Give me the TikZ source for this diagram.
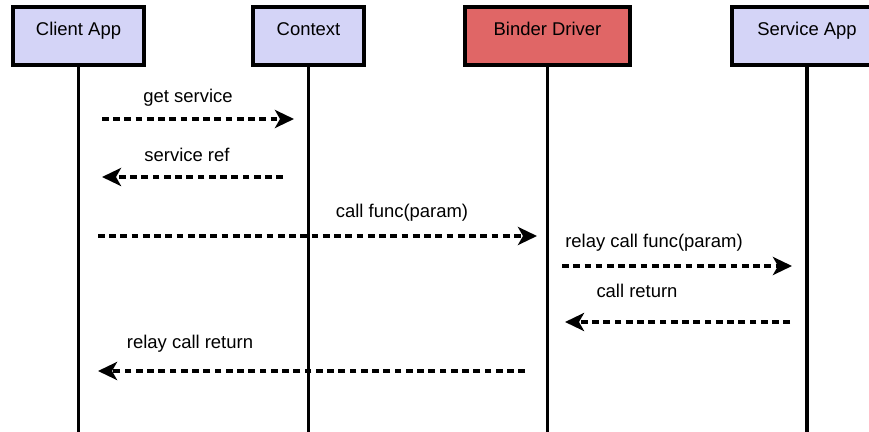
\documentclass[tikz,border=0pt]{standalone}
\usepackage{fontspec}
\setmainfont{Liberation Sans}
\usetikzlibrary{arrows.meta}
\definecolor{actorfill}{RGB}{212,212,247}
\definecolor{driverfill}{RGB}{224,102,102}

\begin{document}
\begin{tikzpicture}[
    font=\fontsize{10.5}{12}\selectfont,
    actor/.style={draw, line width=2pt, fill=actorfill, inner xsep=0pt, inner ysep=0pt,
        minimum height=1.16cm, text height=0.58cm, text depth=0.58cm},
    lifeline/.style={line width=2pt},
    msg/.style={line width=2pt, dash pattern=on 3.8pt off 2.6pt,
        -{Stealth[length=0.38cm, width=0.36cm, inset=0.1cm]}},
    msglabel/.style={anchor=base}]
    \clip (0,0) rectangle (17.38,-8.64);
    \coordinate (bottom) at (0,-8.7);
    \node[actor, minimum width=2.62cm] (client) at (1.57,-0.72) {Client App};
    \node[actor, minimum width=2.22cm] (context) at (6.17,-0.72) {Context};
    \node[actor, fill=driverfill, minimum width=3.3cm] (driver) at (10.95,-0.72) {Binder Driver};
    \node[actor, minimum width=3.0cm] (service) at (16.14,-0.72) {Service App};
    \draw[lifeline] (client.south) -- (client.south |- bottom);
    \draw[lifeline] (context.south) -- (context.south |- bottom);
    \draw[lifeline] (driver.south) -- (driver.south |- bottom);
    \draw[lifeline] (service.south) -- (service.south |- bottom);

    \coordinate (getA) at (2.04,-2.38);
    \coordinate (getB) at (5.88,-2.38);
    \coordinate (refA) at (5.66,-3.54);
    \coordinate (refB) at (2.04,-3.54);
    \coordinate (callA) at (1.96,-4.72);
    \coordinate (callB) at (10.74,-4.72);
    \coordinate (relayA) at (11.24,-5.32);
    \coordinate (relayB) at (15.84,-5.32);
    \coordinate (retA) at (15.8,-6.44);
    \coordinate (retB) at (11.3,-6.44);
    \coordinate (relretA) at (10.5,-7.42);
    \coordinate (relretB) at (1.96,-7.42);

    \draw[msg] (getA) -- (getB);
    \draw[msg] (refA) -- (refB);
    \draw[msg] (callA) -- (callB);
    \draw[msg] (relayA) -- (relayB);
    \draw[msg] (retA) -- (retB);
    \draw[msg] (relretA) -- (relretB);

    \node[msglabel] (getlabel) at (3.76,-2.06) {get service};
    \node[msglabel] (reflabel) at (3.74,-3.24) {service ref};
    \node[msglabel] (calllabel) at (8.04,-4.36) {call func(param)};
    \node[msglabel] (relaylabel) at (13.08,-4.96) {relay call func(param)};
    \node[msglabel] (retlabel) at (12.74,-5.96) {call return};
    \node[msglabel] (relretlabel) at (3.8,-6.96) {relay call return};
\end{tikzpicture}
\end{document}
